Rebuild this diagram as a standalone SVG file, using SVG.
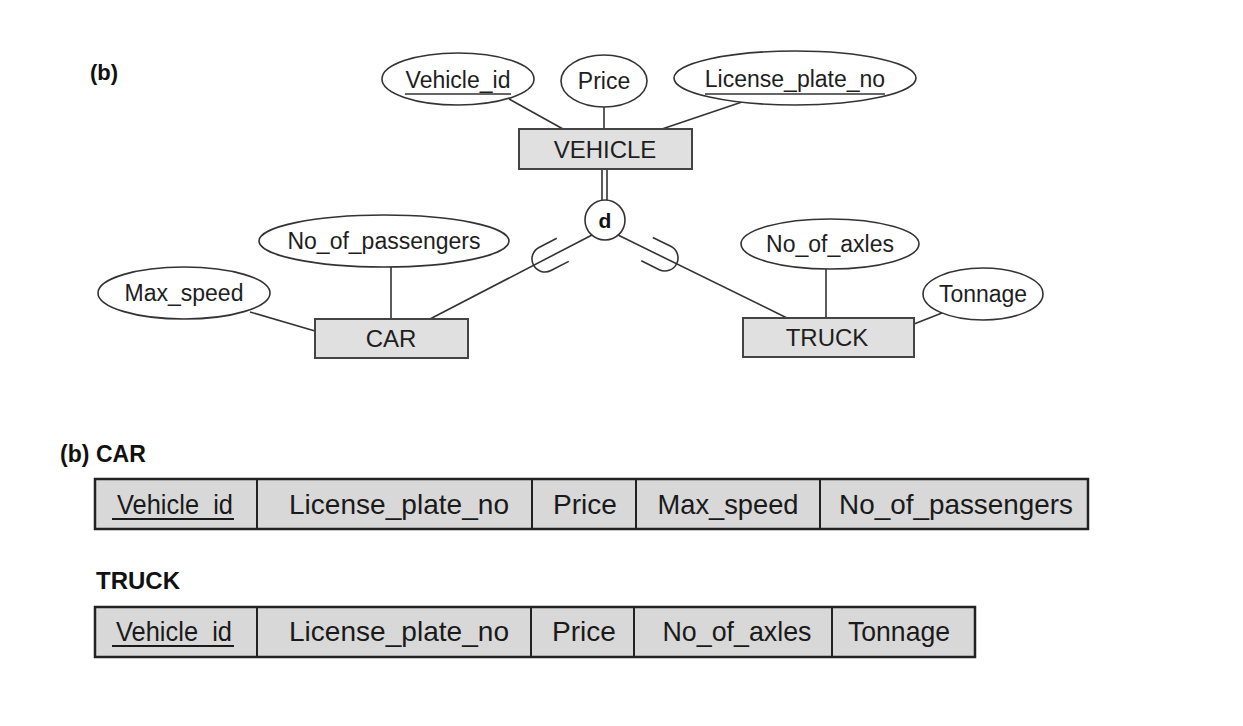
<svg xmlns="http://www.w3.org/2000/svg" width="1243" height="726" viewBox="0 0 1243 726">
<defs>
<style>
.bg{fill:#ffffff}
.attr{fill:#ffffff;stroke:#333;stroke-width:1.6}
.ent{fill:#e0e0e0;stroke:#444;stroke-width:2}
.ln{stroke:#333;stroke-width:1.6;fill:none}
.t{font-family:"Liberation Sans",Arial,sans-serif;font-size:23px;fill:#1e1e1e;text-anchor:middle}
.te{font-family:"Liberation Sans",Arial,sans-serif;font-size:24px;fill:#1e1e1e;text-anchor:middle}
.ul{stroke:#333;stroke-width:1.4}
.lbl{font-family:"Liberation Sans",Arial,sans-serif;font-weight:bold;fill:#111}
.tab{fill:#d8d8d8;stroke:#222;stroke-width:2.5}
.div{stroke:#222;stroke-width:2}
.tt{font-family:"Liberation Sans",Arial,sans-serif;font-size:28px;fill:#1a1a1a;text-anchor:middle}
.tul{stroke:#1a1a1a;stroke-width:2}
</style>
<path id="sub" d="M -20,13 L 0,13 A 13 13 0 0 0 0,-13 L -20,-13" class="ln"/>
</defs>
<rect class="bg" x="0" y="0" width="1243" height="726"/>

<text class="lbl" x="90" y="80" font-size="22">(b)</text>

<g id="connectors">
<line class="ln" x1="509" y1="99" x2="563" y2="129"/>
<line class="ln" x1="604" y1="107" x2="604" y2="129"/>
<line class="ln" x1="742" y1="102" x2="662" y2="129"/>
<line class="ln" x1="602" y1="169" x2="602" y2="200"/>
<line class="ln" x1="607" y1="169" x2="607" y2="200"/>
<line class="ln" x1="592" y1="235" x2="430" y2="319"/>
<line class="ln" x1="618" y1="235" x2="787" y2="318"/>
<use href="#sub" transform="translate(545,259) rotate(152.6)"/>
<use href="#sub" transform="translate(665,258) rotate(26.2)"/>
<line class="ln" x1="250" y1="312" x2="315" y2="331"/>
<line class="ln" x1="391" y1="267" x2="391" y2="319"/>
<line class="ln" x1="826" y1="269" x2="826" y2="318"/>
<line class="ln" x1="942" y1="313" x2="914" y2="324"/>
</g>

<g id="attr-vehicle-id">
<ellipse class="attr" cx="458" cy="79" rx="76" ry="26"/>
<text class="t" x="458" y="88">Vehicle_id</text>
<line class="ul" x1="405" y1="94" x2="511" y2="94"/>
</g>
<g id="attr-price">
<ellipse class="attr" cx="604" cy="81" rx="43" ry="26"/>
<text class="t" x="604" y="89">Price</text>
</g>
<g id="attr-license">
<ellipse class="attr" cx="795" cy="78" rx="121" ry="27"/>
<text class="t" x="795" y="87">License_plate_no</text>
<line class="ul" x1="705" y1="94" x2="885" y2="94"/>
</g>
<g id="vehicle">
<rect class="ent" x="519" y="129" width="173" height="40"/>
<text class="te" x="605" y="158">VEHICLE</text>
</g>
<g id="disjoint">
<circle class="attr" cx="605" cy="220" r="20"/>
<text class="lbl" x="605" y="228" font-size="21" text-anchor="middle">d</text>
</g>
<g id="attr-passengers">
<ellipse class="attr" cx="384" cy="241" rx="125" ry="26"/>
<text class="t" x="384" y="249">No_of_passengers</text>
</g>
<g id="attr-maxspeed">
<ellipse class="attr" cx="184" cy="293" rx="86" ry="26"/>
<text class="t" x="184" y="301">Max_speed</text>
</g>
<g id="car">
<rect class="ent" x="315" y="319" width="153" height="39"/>
<text class="te" x="391" y="347">CAR</text>
</g>
<g id="attr-axles">
<ellipse class="attr" cx="830" cy="244" rx="89" ry="25"/>
<text class="t" x="830" y="252">No_of_axles</text>
</g>
<g id="attr-tonnage">
<ellipse class="attr" cx="983" cy="294" rx="60" ry="26"/>
<text class="t" x="983" y="302">Tonnage</text>
</g>
<g id="truck">
<rect class="ent" x="743" y="318" width="171" height="39"/>
<text class="te" x="827" y="346">TRUCK</text>
</g>

<g id="car-table">
<text class="lbl" y="462" font-size="23"><tspan x="60">(b)</tspan><tspan x="96">CAR</tspan></text>
<rect class="tab" x="95" y="479" width="993" height="50"/>
<line class="div" x1="257" y1="479" x2="257" y2="529"/>
<line class="div" x1="532" y1="479" x2="532" y2="529"/>
<line class="div" x1="636" y1="479" x2="636" y2="529"/>
<line class="div" x1="820" y1="479" x2="820" y2="529"/>
<text class="tt" x="175" y="514" textLength="116" lengthAdjust="spacingAndGlyphs">Vehicle_id</text>
<line class="tul" x1="112" y1="519" x2="234" y2="519"/>
<text class="tt" x="399" y="514" textLength="220" lengthAdjust="spacingAndGlyphs">License_plate_no</text>
<text class="tt" x="585" y="514" textLength="64" lengthAdjust="spacingAndGlyphs">Price</text>
<text class="tt" x="728" y="514" textLength="141" lengthAdjust="spacingAndGlyphs">Max_speed</text>
<text class="tt" x="956" y="514" textLength="234" lengthAdjust="spacingAndGlyphs">No_of_passengers</text>
</g>

<g id="truck-table">
<text class="lbl" x="96" y="589" font-size="24">TRUCK</text>
<rect class="tab" x="95" y="607" width="880" height="50"/>
<line class="div" x1="257" y1="607" x2="257" y2="657"/>
<line class="div" x1="531" y1="607" x2="531" y2="657"/>
<line class="div" x1="634" y1="607" x2="634" y2="657"/>
<line class="div" x1="832" y1="607" x2="832" y2="657"/>
<text class="tt" x="174" y="641" textLength="116" lengthAdjust="spacingAndGlyphs">Vehicle_id</text>
<line class="tul" x1="112" y1="646" x2="234" y2="646"/>
<text class="tt" x="399" y="641" textLength="220" lengthAdjust="spacingAndGlyphs">License_plate_no</text>
<text class="tt" x="584" y="641" textLength="64" lengthAdjust="spacingAndGlyphs">Price</text>
<text class="tt" x="737" y="641" textLength="149" lengthAdjust="spacingAndGlyphs">No_of_axles</text>
<text class="tt" x="899" y="641" textLength="102" lengthAdjust="spacingAndGlyphs">Tonnage</text>
</g>
</svg>
